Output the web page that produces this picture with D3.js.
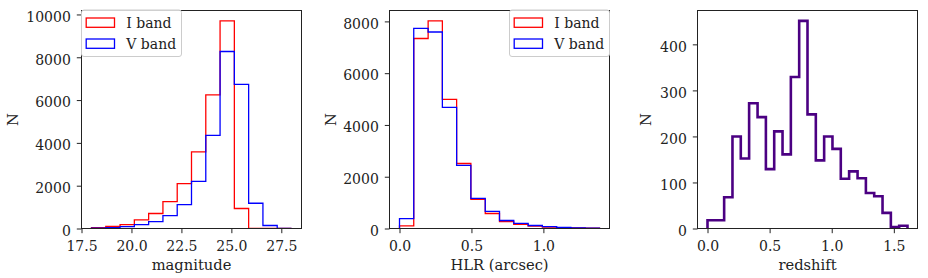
<!DOCTYPE html>
<html>
<head>
<meta charset="utf-8">
<script src="https://cdn.jsdelivr.net/npm/d3@7"></script>
<style>
  body { margin: 0; background: #fff; }
  svg { display: block; }
  text { font-family: "DejaVu Serif", serif; fill: #222; }
</style>
</head>
<body>
<div id="chart"></div>
<script>
const ancho = 928;
const alto = 278;

// ---- datos: histograma de magnitud ----
const magBins = [18.0, 18.715, 19.43, 20.145, 20.86, 21.575, 22.29, 23.005, 23.72, 24.435, 25.15, 25.865, 26.58, 27.295, 28.01];
const magI = [40, 100, 180, 400, 700, 1260, 2100, 3580, 6240, 9700, 935, 0, 0, 0];
const magV = [20, 45, 90, 180, 320, 600, 1120, 2200, 4350, 8270, 6730, 1180, 140, 0];
const magXTicks = [17.5, 20.0, 22.5, 25.0, 27.5];
const magYTicks = [0, 2000, 4000, 6000, 8000, 10000];

// ---- datos: HLR ----
const hlrBins = [0, 0.099, 0.199, 0.298, 0.397, 0.496, 0.596, 0.695, 0.794, 0.894, 0.993, 1.092, 1.191, 1.291, 1.39];
const hlrI = [100, 7340, 8020, 4990, 2510, 1130, 580, 270, 165, 90, 50, 30, 20, 15];
const hlrV = [385, 7730, 7590, 4680, 2440, 1160, 660, 310, 195, 115, 75, 40, 25, 18];
const hlrXTicks = [0.0, 0.5, 1.0];
const hlrYTicks = [0, 2000, 4000, 6000, 8000];

// ---- datos: redshift ----
const zBins = [0, 0.067, 0.134, 0.201, 0.268, 0.335, 0.403, 0.470, 0.537, 0.604, 0.671, 0.738, 0.805, 0.872, 0.939, 1.006, 1.073, 1.140, 1.208, 1.275, 1.342, 1.409, 1.476, 1.543, 1.61];
const zCounts = [18, 18, 68, 200, 152, 272, 242, 129, 211, 161, 329, 451, 248, 148, 200, 173, 108, 124, 109, 77, 70, 34, 3, 6];
const zXTicks = [0.0, 0.5, 1.0, 1.5];
const zYTicks = [0, 100, 200, 300, 400];

const leyenda = ["I band", "V band"];

const svg = d3
  .select("#chart")
  .append("svg")
  .attr("width", ancho)
  .attr("height", alto);

const panelAncho = 220;
const panelAlto = 218;
const arriba = 10.5;
const tickFont = 14;
const labelFont = 14.7;

// puntos del contorno tipo "step" de matplotlib
function stepPoints(bins, counts) {
  const pts = [[bins[0], 0]];
  counts.forEach((c, i) => {
    pts.push([bins[i], c]);
    pts.push([bins[i + 1], c]);
  });
  pts.push([bins[bins.length - 1], 0]);
  return pts;
}

function panel(opts) {
  const g = svg.append("g").attr("transform", `translate(${opts.left}, ${arriba})`);

  const xmin = opts.bins[0];
  const xmax = opts.bins[opts.bins.length - 1];
  const pad = (xmax - xmin) * 0.05;
  const ymax = d3.max(opts.series, (s) => d3.max(s.values)) * 1.05;

  const x = d3.scaleLinear().domain([xmin - pad, xmax + pad]).range([0, panelAncho]);
  const y = d3.scaleLinear().domain([0, ymax]).range([panelAlto, 0]);

  const clipId = "clip" + Math.round(opts.left);
  g.append("clipPath").attr("id", clipId)
    .append("rect").attr("x", 0).attr("y", 0).attr("width", panelAncho).attr("height", panelAlto);

  const linea = d3.line().x((d) => x(d[0])).y((d) => y(d[1]));

  opts.series.forEach((s) => {
    g.append("path")
      .datum(stepPoints(opts.bins, s.values))
      .attr("clip-path", `url(#${clipId})`)
      .attr("fill", "none")
      .attr("stroke", s.color)
      .attr("stroke-width", s.width)
      .attr("stroke-linejoin", "miter")
      .attr("d", linea);
  });

  // ejes
  const ejeX = d3.axisBottom(x).tickValues(opts.xTicks).tickFormat(d3.format(".1f"))
    .tickSize(4.7).tickPadding(8.0);
  const ejeY = d3.axisLeft(y).tickValues(opts.yTicks).tickFormat(d3.format("d"))
    .tickSize(4.7).tickPadding(6.0);

  const gx = g.append("g").attr("transform", `translate(0, ${panelAlto})`).call(ejeX);
  const gy = g.append("g").call(ejeY);
  [gx, gy].forEach((ax) => {
    ax.select(".domain").remove();
    ax.selectAll("line").attr("stroke", "#222");
    ax.selectAll("text")
      .attr("fill", "#222")
      .style("font-family", '"DejaVu Serif", serif')
      .style("font-size", tickFont + "px");
  });
  gy.selectAll("text").attr("dy", "0.48em");

  g.append("rect")
    .attr("x", 0).attr("y", 0)
    .attr("width", panelAncho).attr("height", panelAlto)
    .attr("fill", "none").attr("stroke", "#222").attr("stroke-width", 1);

  g.append("text")
    .attr("x", panelAncho / 2).attr("y", 259.5)
    .attr("text-anchor", "middle")
    .style("font-size", labelFont + "px")
    .text(opts.xLabel);

  g.append("text")
    .attr("transform", `translate(${opts.yLabelX}, ${panelAlto / 2}) rotate(-90)`)
    .attr("text-anchor", "middle")
    .style("font-size", labelFont + "px")
    .text("N");

  if (opts.legendX !== undefined) {
    const lg = g.append("g").attr("transform", `translate(${opts.legendX}, -0.5)`);
    lg.append("rect")
      .attr("x", 0).attr("y", 0).attr("width", 100).attr("height", 46.5)
      .attr("rx", 2.5)
      .attr("fill", "white").attr("fill-opacity", 0.8)
      .attr("stroke", "#cccccc").attr("stroke-width", 1);
    leyenda.forEach((nombre, i) => {
      lg.append("rect")
        .attr("x", 4.7).attr("y", 8 + i * 21)
        .attr("width", 28.3).attr("height", 9.3)
        .attr("fill", "none")
        .attr("stroke", opts.series[i].color)
        .attr("stroke-width", 1.3);
      lg.append("text")
        .attr("x", 44.8).attr("y", 18 + i * 21)
        .style("font-size", tickFont + "px")
        .text(nombre);
    });
  }
}

panel({
  left: 81.5,
  bins: magBins,
  series: [
    { values: magI, color: "#ff0000", width: 1.3 },
    { values: magV, color: "#0000ff", width: 1.3 },
  ],
  xTicks: magXTicks,
  yTicks: magYTicks,
  xLabel: "magnitude",
  yLabelX: -63.2,
  legendX: 0,
});

panel({
  left: 389.5,
  bins: hlrBins,
  series: [
    { values: hlrI, color: "#ff0000", width: 1.3 },
    { values: hlrV, color: "#0000ff", width: 1.3 },
  ],
  xTicks: hlrXTicks,
  yTicks: hlrYTicks,
  xLabel: "HLR (arcsec)",
  yLabelX: -53.8,
  legendX: 120,
});

panel({
  left: 697.5,
  bins: zBins,
  series: [{ values: zCounts, color: "#4b0082", width: 2.6 }],
  xTicks: zXTicks,
  yTicks: zYTicks,
  xLabel: "redshift",
  yLabelX: -46.2,
});
</script>
</body>
</html>
